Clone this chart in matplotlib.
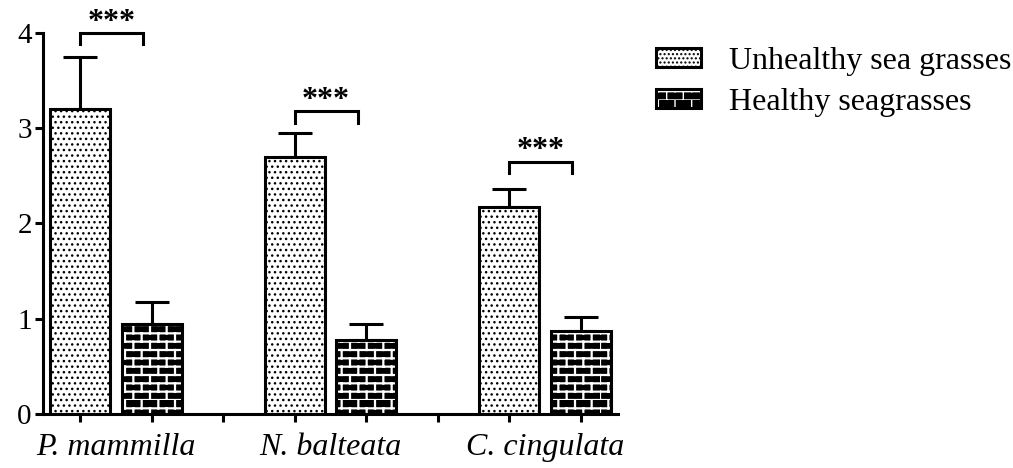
import warnings
import numpy as np
import matplotlib
matplotlib.use("Agg")
import matplotlib.pyplot as plt
from matplotlib.patches import Patch
from matplotlib.legend_handler import HandlerTuple
from matplotlib.path import Path
from matplotlib import hatch as mhatch

warnings.filterwarnings("ignore")

# ---- data ----
species = ["P. mammilla", "N. balteata", "C. cingulata"]
unhealthy = [3.20, 2.70, 2.17]
unhealthy_err = [0.55, 0.25, 0.19]
healthy = [0.94, 0.78, 0.87]
healthy_err = [0.24, 0.16, 0.15]
sig_labels = ["***", "***", "***"]
sig_y = [4.00, 3.18, 2.65]
legend_labels = ["Unhealthy sea grasses", "Healthy seagrasses"]


# brick hatch, registered as the 'b' hatch character
class BrickHatch(mhatch.HatchPatternBase):
    def __init__(self, hatch, density):
        self.rows = int(hatch.count('b') * density * 2)
        self.cols = max(self.rows // 2, 1)
        # one horizontal line per row + vertical joints per row
        self.num_vertices = (self.rows + self.rows * self.cols) * 2 if self.rows else 0

    def set_vertices_and_codes(self, vertices, codes):
        dy = 1.0 / self.rows
        dx = 1.0 / self.cols
        k = 0
        for r in range(self.rows):
            y0 = r * dy
            vertices[k] = (0.0, y0); codes[k] = Path.MOVETO; k += 1
            vertices[k] = (1.0, y0); codes[k] = Path.LINETO; k += 1
            off = 0.0 if r % 2 == 0 else dx / 2
            for c in range(self.cols):
                x = c * dx + off
                vertices[k] = (x, y0); codes[k] = Path.MOVETO; k += 1
                vertices[k] = (x, y0 + dy); codes[k] = Path.LINETO; k += 1


mhatch._hatch_types.append(BrickHatch)

plt.rcParams['font.family'] = ['Liberation Serif', 'DejaVu Serif']

fig = plt.figure(figsize=(10.13, 4.68), dpi=100)
ax = fig.add_axes([0.0424, 0.1154, 0.5676, 0.8141])

step = 3
x_unh = np.arange(len(species)) * step
x_hea = x_unh + 1
w = 0.84
lw = 2.2

# unhealthy: dotted fill
plt.rcParams['hatch.linewidth'] = 1.0
ax.bar(x_unh, unhealthy, w, color='white', edgecolor='black', hatch='...',
       linewidth=0, zorder=2)
ax.bar(x_unh, unhealthy, w, fill=False, edgecolor='black', linewidth=lw, zorder=3)

# healthy: black bricks
plt.rcParams['hatch.linewidth'] = 1.6
ax.bar(x_hea, healthy, w, color='black', edgecolor='white', hatch='b',
       linewidth=0, zorder=2)
ax.bar(x_hea, healthy, w, fill=False, edgecolor='black', linewidth=lw, zorder=3)

ax.errorbar(x_unh, unhealthy, yerr=[np.zeros(3), unhealthy_err], fmt='none',
            ecolor='black', elinewidth=lw, capsize=12, capthick=lw, zorder=1)
ax.errorbar(x_hea, healthy, yerr=[np.zeros(3), healthy_err], fmt='none',
            ecolor='black', elinewidth=lw, capsize=12, capthick=lw, zorder=1)

# significance brackets
for xu, yb, lab in zip(x_unh, sig_y, sig_labels):
    x0, x1 = xu, xu + 0.88
    ax.plot([x0, x0, x1, x1], [yb - 0.12, yb, yb, yb - 0.12], color='black',
            lw=lw, clip_on=False, solid_joinstyle='miter')
    ax.text((x0 + x1) / 2, yb - 0.04, lab, ha='center', va='bottom',
            fontsize=23, fontweight='bold', clip_on=False)

ax.set_xlim(-0.52, 7.52)
ax.set_ylim(0, 4)
ax.set_yticks([0, 1, 2, 3, 4])
ax.set_xticks(np.arange(8))
ax.set_xticklabels([''] * 8)
for xc, name in zip(x_unh + 0.5, species):
    ax.text(xc, -0.2, name, ha='center', va='top', fontsize=23,
            style='italic')

for s in ['top', 'right']:
    ax.spines[s].set_visible(False)
for s in ['left', 'bottom']:
    ax.spines[s].set_linewidth(lw)
ax.tick_params(axis='both', width=lw, length=6, labelsize=21, pad=2)

plt.rcParams['hatch.linewidth'] = 1.0
h1 = (Patch(facecolor='white', edgecolor='black', hatch='....', linewidth=0),
      Patch(fill=False, edgecolor='black', linewidth=lw))
h2 = (Patch(facecolor='black', edgecolor='white', hatch='b', linewidth=0),
      Patch(fill=False, edgecolor='black', linewidth=lw))
fig.legend([h1, h2], legend_labels, loc='upper left',
           bbox_to_anchor=(0.648, 0.9), frameon=False, fontsize=23,
           handler_map={tuple: HandlerTuple(ndivide=1, pad=0)},
           handlelength=1.41, handleheight=0.52, handletextpad=0.87,
           labelspacing=0.38, borderaxespad=0, borderpad=0)

fig.savefig('out.png', dpi=100)
